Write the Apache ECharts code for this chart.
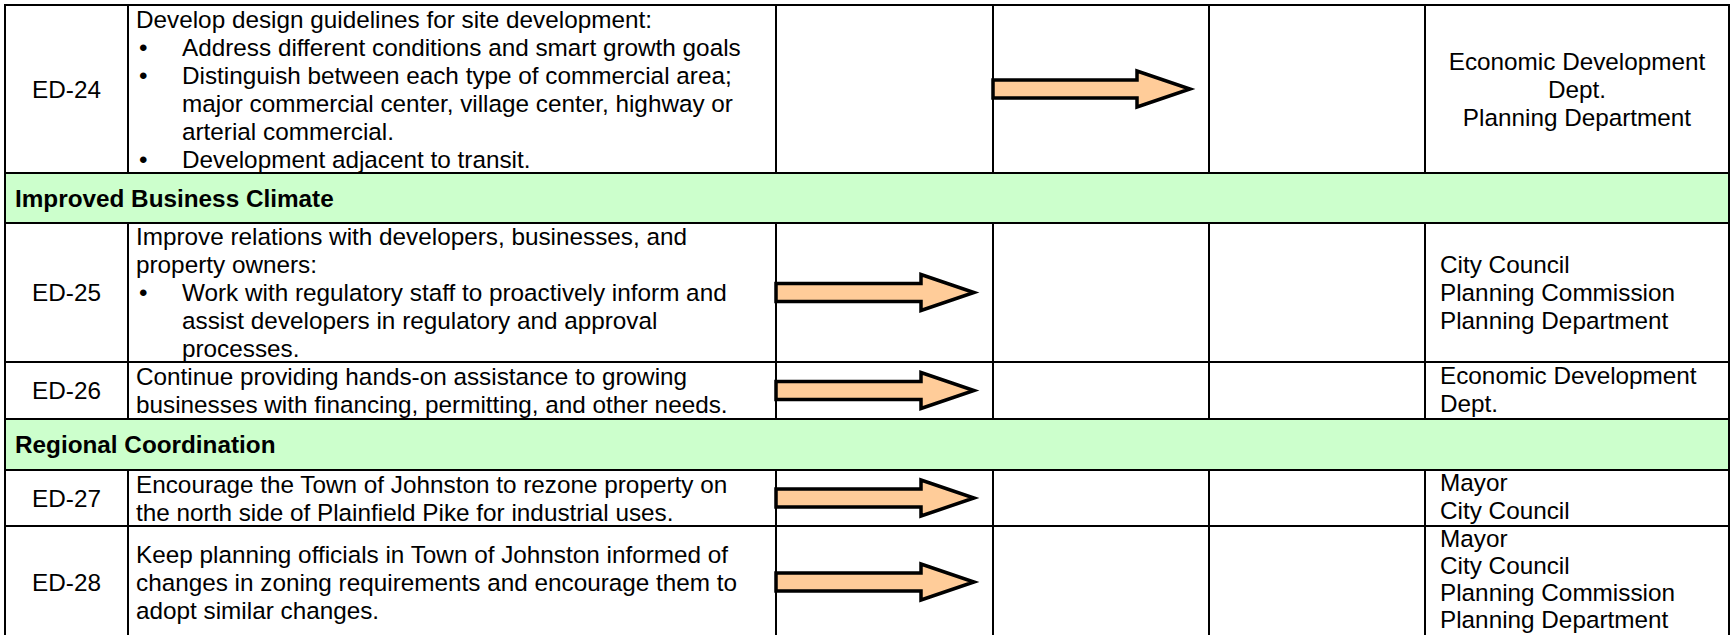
<!DOCTYPE html>
<html>
<head>
<meta charset="utf-8">
<script src="https://cdn.jsdelivr.net/npm/echarts@6/dist/echarts.min.js"></script>
<style>
html,body{margin:0;padding:0;background:#ffffff;}
#chart{width:1732px;height:635px;}
</style>
</head>
<body>
<div id="chart"></div>
<script>
// ---------------- DATA ----------------
const ids = ['ED-24', 'ED-25', 'ED-26', 'ED-27', 'ED-28'];
const sectionTitles = ['Improved Business Climate', 'Regional Coordination'];
// '• ' = bullet line, '  ' = bullet continuation line
const descriptions = [
  ['Develop design guidelines for site development:',
   '• Address different conditions and smart growth goals',
   '• Distinguish between each type of commercial area;',
   '  major commercial center, village center, highway or',
   '  arterial commercial.',
   '• Development adjacent to transit.'],
  ['Improve relations with developers, businesses, and',
   'property owners:',
   '• Work with regulatory staff to proactively inform and',
   '  assist developers in regulatory and approval',
   '  processes.'],
  ['Continue providing hands-on assistance to growing',
   'businesses with financing, permitting, and other needs.'],
  ['Encourage the Town of Johnston to rezone property on',
   'the north side of Plainfield Pike for industrial uses.'],
  ['Keep planning officials in Town of Johnston informed of',
   'changes in zoning requirements and encourage them to',
   'adopt similar changes.']
];
const responsible = [
  ['Economic Development', 'Dept.', 'Planning Department'],
  ['City Council', 'Planning Commission', 'Planning Department'],
  ['Economic Development', 'Dept.'],
  ['Mayor', 'City Council'],
  ['Mayor', 'City Council', 'Planning Commission', 'Planning Department']
];
// which of the three timeframe columns holds the arrow (0 = first)
const timeframe = [1, 0, 0, 0, 0];
const responsibleCentered = [true, false, false, false, false];

// ---------------- LAYOUT ----------------
const rowSequence = [['item', 0], ['section', 0], ['item', 1], ['item', 2], ['section', 1], ['item', 3], ['item', 4]];
const rowEdges = [5, 173, 223, 362, 419, 470, 526, 638];
const colEdges = [5, 128, 776, 993, 1209, 1425, 1729];

const FONT_FAMILY = '"Liberation Sans", Arial, sans-serif';
const FONT_SIZE = 24.3;
const LINE_H = 28;

function renderItem(params, api) {
  const r = params.dataIndex;
  const kind = rowSequence[r][0], k = rowSequence[r][1];
  const top = api.coord([0, rowEdges[r]])[1];
  const bot = api.coord([0, rowEdges[r + 1]])[1];
  const viewBottom = api.getHeight();
  const X = colEdges.map(v => api.coord([v, 0])[0]);
  const mid = (top + bot) / 2;
  const ch = [];
  const font = FONT_SIZE + 'px ' + FONT_FAMILY;
  if (kind === 'section') {
    ch.push({type: 'rect', shape: {x: X[0], y: top, width: X[6] - X[0], height: bot - top},
      style: {fill: '#CCFFCC', stroke: '#000', lineWidth: 2}});
    ch.push({type: 'text', style: {text: sectionTitles[k], x: X[0] + 10, y: mid,
      verticalAlign: 'middle', align: 'left', font: 'bold ' + font, fill: '#000'}});
    return {type: 'group', children: ch};
  }
  for (let c = 0; c < 6; c++) {
    ch.push({type: 'rect', shape: {x: X[c], y: top, width: X[c + 1] - X[c], height: bot - top},
      style: {fill: '#fff', stroke: '#000', lineWidth: 2}});
  }
  // id
  ch.push({type: 'text', style: {text: ids[k], x: (X[0] + X[1]) / 2, y: mid,
    align: 'center', verticalAlign: 'middle', font: font, fill: '#000'}});
  // description
  const d = descriptions[k];
  const y0 = mid - (d.length - 1) * LINE_H / 2;
  d.forEach((line, i) => {
    const y = y0 + i * LINE_H;
    let x = X[1] + 8, txt = line;
    if (line.startsWith('• ')) {
      ch.push({type: 'text', style: {text: '•', x: X[1] + 11, y: y, align: 'left',
        verticalAlign: 'middle', font: font, fill: '#000'}});
      x = X[1] + 54; txt = line.slice(2);
    } else if (line.startsWith('  ')) {
      x = X[1] + 54; txt = line.slice(2);
    }
    ch.push({type: 'text', style: {text: txt, x: x, y: y, align: 'left',
      verticalAlign: 'middle', font: font, fill: '#000'}});
  });
  // responsible (kept inside the visible area)
  const rs = responsible[k];
  const n = rs.length;
  let spacing = LINE_H;
  let ry0 = mid - (n - 1) * spacing / 2;
  const lastMax = Math.min(bot, viewBottom) - 16;
  if (ry0 + (n - 1) * spacing > lastMax) {
    const firstMin = top + 12;
    spacing = Math.min(LINE_H, (lastMax - firstMin) / Math.max(1, n - 1));
    ry0 = lastMax - (n - 1) * spacing;
  }
  rs.forEach((line, i) => {
    const centered = responsibleCentered[k];
    ch.push({type: 'text', style: {text: line,
      x: centered ? (X[5] + X[6]) / 2 : X[5] + 15, y: ry0 + i * spacing,
      align: centered ? 'center' : 'left', verticalAlign: 'middle', font: font, fill: '#000'}});
  });
  // arrow
  const col = 2 + timeframe[k];
  const x0 = X[col], x1 = X[col + 1] - 19;
  const hs = 9, hh = 18, L = 53;
  ch.push({type: 'polygon', shape: {points: [
      [x0, mid - hs], [x1 - L, mid - hs], [x1 - L, mid - hh], [x1, mid],
      [x1 - L, mid + hh], [x1 - L, mid + hs], [x0, mid + hs]]},
    style: {fill: '#FFCC99', stroke: '#000', lineWidth: 3.5, lineJoin: 'miter'}});
  return {type: 'group', children: ch};
}

const chart = echarts.init(document.getElementById('chart'), null, {renderer: 'svg'});
chart.setOption({
  animation: false,
  backgroundColor: '#fff',
  grid: {left: 0, right: 0, top: 0, bottom: 0},
  xAxis: {type: 'value', min: 0, max: 1732, show: false},
  yAxis: {type: 'value', min: 0, max: 635, inverse: true, show: false},
  series: [{
    type: 'custom',
    renderItem: renderItem,
    data: rowSequence.map((r, i) => [i]),
    clip: false
  }]
});
</script>
</body>
</html>
